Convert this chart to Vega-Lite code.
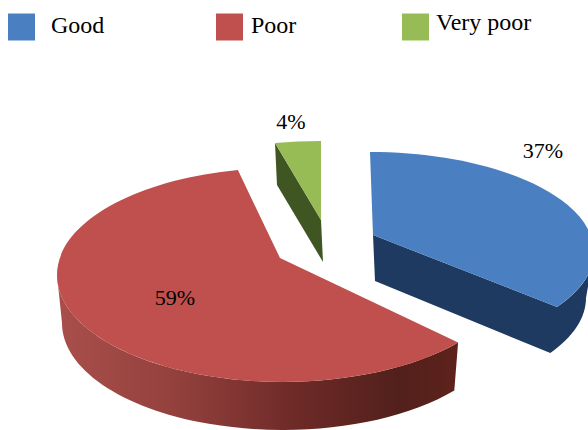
{
  "$schema": "https://vega.github.io/schema/vega-lite/v6.json",
  "width": 588,
  "height": 430,
  "padding": 0,
  "autosize": "none",
  "background": "white",
  "view": {"stroke": null},
  "data": {"values": [
    {"slice": "Good", "share": 37},
    {"slice": "Poor", "share": 59},
    {"slice": "Very poor", "share": 4}
  ]},
  "transform": [
    {"stack": "share", "groupby": [], "sort": [{"field": "slice", "order": "ascending"}], "as": ["s0", "s1"]},
    {"calculate": "datum.slice === 'Good' ? 370 : datum.slice === 'Poor' ? 283 : 321", "as": "cx"},
    {"calculate": "datum.slice === 'Good' ? 252 : datum.slice === 'Poor' ? 275 : 206", "as": "cy"},
    {"calculate": "datum.slice === 'Good' ? 224 : datum.slice === 'Poor' ? 226 : 185", "as": "rx"},
    {"calculate": "datum.slice === 'Good' ? 216 : datum.slice === 'Poor' ? 221 : 177", "as": "rxb"},
    {"calculate": "datum.slice === 'Good' ? 100 : datum.slice === 'Poor' ? 107 : 65", "as": "ry"},
    {"calculate": "datum.slice === 'Good' ? 46 : datum.slice === 'Poor' ? 48 : 42", "as": "h"},
    {"calculate": "datum.slice === 'Good' ? 3 : datum.slice === 'Poor' ? -3 : 0", "as": "ax"},
    {"calculate": "datum.slice === 'Very poor' ? 14 : -17", "as": "ay"},
    {"calculate": "datum.slice === 'Good' ? 543 : datum.slice === 'Poor' ? 175 : 291", "as": "lx"},
    {"calculate": "datum.slice === 'Good' ? 151 : datum.slice === 'Poor' ? 298 : 122", "as": "ly"},
    {"calculate": "datum.slice === 'Good' ? 21.5 : datum.slice === 'Poor' ? 229.5 : 415.5", "as": "keyX"},
    {"calculate": "datum.slice === 'Good' ? 51 : datum.slice === 'Poor' ? 251 : 436", "as": "keyLabelX"},
    {"calculate": "datum.slice === 'Very poor' ? 23 : 26", "as": "keyLabelY"},
    {"calculate": "27", "as": "keyY"},
    {"calculate": "datum.share + '%'", "as": "pct"},
    {"calculate": "datum.s0 / 100 * 2 * PI + (datum.slice === 'Poor' ? -4 : 0) * PI / 180", "as": "t0"},
    {"calculate": "datum.s1 / 100 * 2 * PI + (datum.slice === 'Good' ? -9.8 : datum.slice === 'Poor' ? 2.9 : 0) * PI / 180", "as": "t1"},
    {"calculate": "datum.slice === 'Good' ? PI / 2 : datum.t0", "as": "wa"},
    {"calculate": "datum.slice === 'Good' ? datum.t1 : 3 * PI / 2", "as": "wb"},
    {"calculate": "datum.slice === 'Good' ? datum.t1 : datum.t0", "as": "fa"},
    {"calculate": "round(datum.rx * sin(datum.t0) * 10) / 10 + ' ' + round(-datum.ry * cos(datum.t0) * 10) / 10", "as": "p0"},
    {"calculate": "round(datum.rx * sin(datum.t1) * 10) / 10 + ' ' + round(-datum.ry * cos(datum.t1) * 10) / 10", "as": "p1"},
    {"calculate": "round(datum.rx * sin(datum.wa) * 10) / 10 + ' ' + round(-datum.ry * cos(datum.wa) * 10) / 10", "as": "wTopA"},
    {"calculate": "round(datum.rx * sin(datum.wb) * 10) / 10 + ' ' + round(-datum.ry * cos(datum.wb) * 10) / 10", "as": "wTopB"},
    {"calculate": "round(datum.rxb * sin(datum.wa) * 10) / 10 + ' ' + round((datum.h - datum.ry * cos(datum.wa)) * 10) / 10", "as": "wLowA"},
    {"calculate": "round(datum.rxb * sin(datum.wb) * 10) / 10 + ' ' + round((datum.h - datum.ry * cos(datum.wb)) * 10) / 10", "as": "wLowB"},
    {"calculate": "round(datum.rx * sin(datum.fa) * 10) / 10 + ' ' + round(-datum.ry * cos(datum.fa) * 10) / 10", "as": "fTop"},
    {"calculate": "round(datum.rxb * sin(datum.fa) * 10) / 10 + ' ' + round((datum.h - datum.ry * cos(datum.fa)) * 10) / 10", "as": "fLow"},
    {"calculate": "'M' + datum.ax + ' ' + datum.ay + 'L' + datum.p0 + 'A' + datum.rx + ' ' + datum.ry + ' 0 ' + (datum.t1 - datum.t0 > PI ? 1 : 0) + ' 1 ' + datum.p1 + 'Z'", "as": "topPath"},
    {"calculate": "'M' + datum.wTopA + 'A' + datum.rx + ' ' + datum.ry + ' 0 0 1 ' + datum.wTopB + 'L' + datum.wLowB + 'A' + datum.rxb + ' ' + datum.ry + ' 0 0 0 ' + datum.wLowA + 'Z'", "as": "wallPath"},
    {"calculate": "'M' + datum.ax + ' ' + datum.ay + 'L' + datum.fTop + 'L' + datum.fLow + 'L' + (datum.ax + 2) + ' ' + (datum.ay + datum.h) + 'Z'", "as": "facePath"},
    {"calculate": "datum.slice === 'Good' ? datum.facePath + datum.wallPath : datum.slice === 'Poor' ? datum.wallPath : datum.facePath", "as": "sidePath"}
  ],
  "encoding": {
    "x": {"field": "cx", "type": "quantitative", "axis": null, "scale": {"domain": [0, 588], "range": [0, 588]}},
    "y": {"field": "cy", "type": "quantitative", "axis": null, "scale": {"domain": [0, 430], "range": [0, 430]}}
  },
  "layer": [
    {
      "transform": [{"filter": "datum.slice === 'Poor'"}],
      "mark": {
        "type": "point", "filled": true, "size": 4, "opacity": 1, "strokeWidth": 0,
        "fill": {
          "gradient": "linear", "x1": 0, "y1": 0, "x2": 1, "y2": 0,
          "stops": [
            {"offset": 0, "color": "#a94f4b"},
            {"offset": 0.3, "color": "#93403d"},
            {"offset": 0.6, "color": "#6d2a27"},
            {"offset": 0.85, "color": "#52201b"},
            {"offset": 1, "color": "#5e221c"}
          ]
        }
      },
      "encoding": {"shape": {"field": "sidePath", "type": "nominal", "scale": null}}
    },
    {
      "transform": [{"filter": "datum.slice !== 'Poor'"}],
      "mark": {"type": "point", "filled": true, "size": 4, "opacity": 1, "strokeWidth": 0},
      "encoding": {
        "shape": {"field": "sidePath", "type": "nominal", "scale": null},
        "fill": {"condition": {"test": "datum.slice === 'Good'", "value": "#1e3a60"}, "value": "#3f5522"}
      }
    },
    {
      "mark": {"type": "point", "filled": true, "size": 4, "opacity": 1, "strokeWidth": 0},
      "encoding": {
        "shape": {"field": "topPath", "type": "nominal", "scale": null},
        "fill": {
          "field": "slice", "type": "nominal", "legend": null,
          "scale": {"domain": ["Good", "Poor", "Very poor"], "range": ["#4a80c2", "#bf504d", "#98bc55"]}
        }
      }
    },
    {
      "mark": {"type": "text", "font": "Liberation Serif", "fontSize": 22, "color": "#000000", "align": "center", "baseline": "middle"},
      "encoding": {
        "x": {"field": "lx", "type": "quantitative"},
        "y": {"field": "ly", "type": "quantitative"},
        "text": {"field": "pct", "type": "nominal"}
      }
    },
    {
      "mark": {"type": "point", "shape": "square", "filled": true, "size": 729, "opacity": 1, "strokeWidth": 0},
      "encoding": {
        "x": {"field": "keyX", "type": "quantitative"},
        "y": {"field": "keyY", "type": "quantitative"},
        "fill": {"field": "slice", "type": "nominal", "legend": null}
      }
    },
    {
      "mark": {"type": "text", "font": "Liberation Serif", "fontSize": 24, "color": "#000000", "align": "left", "baseline": "middle"},
      "encoding": {
        "x": {"field": "keyLabelX", "type": "quantitative"},
        "y": {"field": "keyLabelY", "type": "quantitative"},
        "text": {"field": "slice", "type": "nominal"}
      }
    }
  ]
}
